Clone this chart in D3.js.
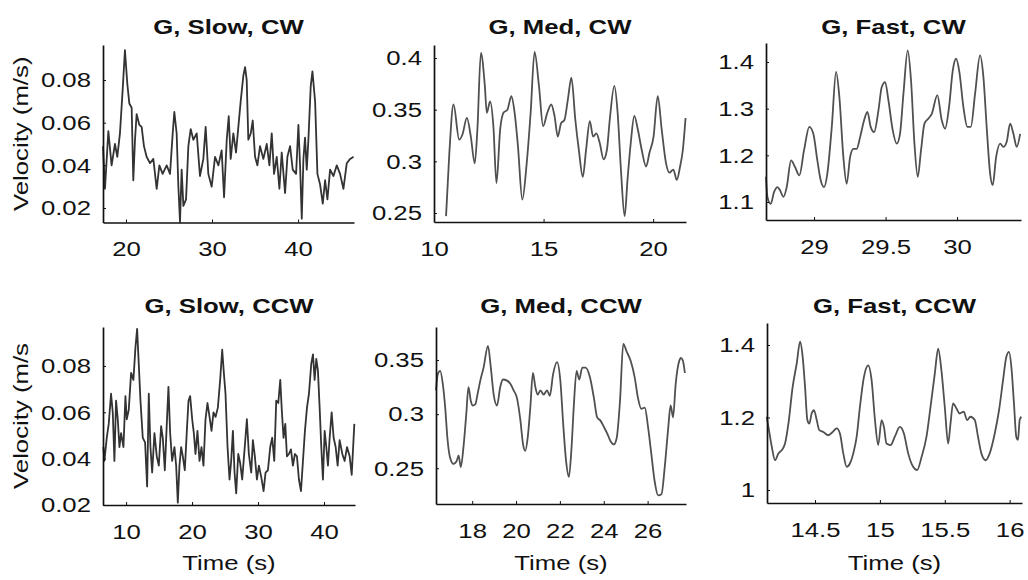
<!DOCTYPE html>
<html>
<head>
<meta charset="utf-8">
<script src="https://cdn.jsdelivr.net/npm/d3@7"></script>
<style>
  body { margin: 0; background: #fff; }
  svg { display: block; }
  .axis path, .axis line { stroke: #111; }
  .trace { fill: none; }
</style>
</head>
<body>
<div id="chart"></div>
<script>
// ---- data: [time (s), velocity (m/s)] ----
const slowCW = [
  [17.33,0.049],[17.56,0.029],[17.95,0.056],[18.33,0.040],[18.72,0.050],[18.99,0.044],[19.30,0.055],[19.61,0.075],
  [19.88,0.094],[20.16,0.078],[20.39,0.069],[20.66,0.067],[20.85,0.033],[21.05,0.052],[21.24,0.064],[21.55,0.059],
  [21.82,0.058],[22.09,0.049],[22.40,0.044],[22.79,0.041],[23.18,0.043],[23.57,0.029],[23.88,0.040],[24.26,0.036],
  [24.73,0.040],[25.12,0.036],[25.43,0.055],[25.62,0.065],[25.89,0.055],[26.09,0.030],[26.28,0.0135],[26.47,0.038],
  [26.67,0.021],[26.98,0.024],[27.25,0.049],[27.52,0.057],[27.83,0.052],[28.22,0.055],[28.60,0.035],[28.99,0.043],
  [29.26,0.058],[29.57,0.036],[29.96,0.030],[30.35,0.044],[30.74,0.040],[31.12,0.047],[31.40,0.025],[31.71,0.052],
  [31.94,0.063],[32.17,0.043],[32.48,0.055],[32.79,0.046],[33.06,0.058],[33.33,0.070],[33.64,0.082],[33.84,0.086],
  [34.03,0.080],[34.22,0.052],[34.50,0.055],[34.73,0.061],[35.00,0.044],[35.27,0.040],[35.58,0.049],[35.97,0.043],
  [36.36,0.050],[36.67,0.040],[36.94,0.055],[37.21,0.036],[37.52,0.044],[37.83,0.029],[38.10,0.046],[38.49,0.027],
  [38.76,0.044],[39.07,0.049],[39.38,0.038],[39.77,0.036],[40.04,0.059],[40.23,0.040],[40.43,0.015],[40.62,0.043],
  [40.81,0.053],[41.01,0.038],[41.20,0.052],[41.47,0.077],[41.67,0.084],[41.98,0.070],[42.25,0.036],[42.56,0.031],
  [42.87,0.022],[43.14,0.033],[43.41,0.024],[43.72,0.038],[44.11,0.035],[44.50,0.040],[44.88,0.036],[45.27,0.029],
  [45.66,0.041],[46.05,0.043],[46.45,0.044]
];
const medCW = [
  [10.55,0.247],[10.70,0.308],[10.89,0.355],[11.15,0.321],[11.30,0.326],[11.50,0.342],[11.68,0.324],[11.86,0.298],
  [11.98,0.331],[12.14,0.405],[12.32,0.373],[12.41,0.347],[12.56,0.358],[12.71,0.334],[12.85,0.279],[13.02,0.331],
  [13.17,0.347],[13.35,0.350],[13.53,0.363],[13.68,0.347],[13.83,0.315],[14.03,0.263],[14.23,0.298],[14.41,0.347],
  [14.59,0.406],[14.79,0.373],[14.98,0.334],[15.17,0.347],[15.35,0.355],[15.50,0.344],[15.65,0.324],[15.80,0.337],
  [15.95,0.340],[16.11,0.360],[16.27,0.381],[16.45,0.340],[16.61,0.311],[16.79,0.285],[16.94,0.311],[17.11,0.339],
  [17.26,0.324],[17.41,0.327],[17.56,0.318],[17.74,0.302],[17.89,0.311],[18.02,0.340],[18.23,0.373],[18.38,0.347],
  [18.53,0.292],[18.70,0.247],[18.83,0.282],[18.98,0.318],[19.14,0.344],[19.30,0.331],[19.48,0.311],[19.68,0.295],
  [19.83,0.308],[20.02,0.324],[20.21,0.363],[20.39,0.331],[20.59,0.298],[20.74,0.289],[20.92,0.292],[21.08,0.282],
  [21.23,0.295],[21.35,0.310],[21.48,0.342]
];
const fastCW = [
  [28.664,1.154],[28.674,1.111],[28.697,1.096],[28.720,1.121],[28.744,1.132],[28.762,1.125],[28.786,1.111],[28.809,1.132],
  [28.839,1.189],[28.867,1.175],[28.897,1.157],[28.930,1.211],[28.967,1.261],[28.995,1.246],[29.023,1.189],[29.047,1.146],
  [29.070,1.132],[29.093,1.161],[29.124,1.261],[29.154,1.379],[29.177,1.325],[29.205,1.196],[29.228,1.139],[29.252,1.196],
  [29.275,1.214],[29.298,1.214],[29.322,1.239],[29.350,1.275],[29.373,1.293],[29.396,1.261],[29.420,1.250],[29.450,1.296],
  [29.473,1.346],[29.497,1.357],[29.520,1.318],[29.550,1.254],[29.578,1.225],[29.601,1.246],[29.625,1.332],[29.655,1.425],
  [29.678,1.361],[29.702,1.225],[29.725,1.154],[29.748,1.211],[29.772,1.268],[29.800,1.279],[29.823,1.289],[29.862,1.329],
  [29.893,1.275],[29.916,1.257],[29.944,1.304],[29.970,1.382],[29.993,1.407],[30.016,1.379],[30.044,1.304],[30.072,1.261],
  [30.096,1.261],[30.126,1.332],[30.161,1.414],[30.184,1.368],[30.207,1.261],[30.231,1.161],[30.249,1.136],[30.273,1.196],
  [30.301,1.225],[30.324,1.218],[30.347,1.229],[30.371,1.268],[30.394,1.246],[30.417,1.218],[30.441,1.246]
];
const slowCCW = [
  [6.56,0.045],[6.71,0.039],[7.07,0.049],[7.37,0.055],[7.72,0.068],[7.98,0.060],[8.23,0.039],[8.48,0.065],
  [8.74,0.057],[8.99,0.045],[9.24,0.051],[9.60,0.045],[9.90,0.067],[10.10,0.057],[10.40,0.061],[10.76,0.077],
  [11.11,0.074],[11.42,0.088],[11.67,0.096],[11.92,0.081],[12.18,0.065],[12.53,0.049],[12.88,0.047],[13.19,0.028],
  [13.44,0.068],[13.69,0.045],[13.95,0.034],[14.30,0.051],[14.65,0.041],[14.96,0.037],[15.31,0.054],[15.56,0.049],
  [15.87,0.035],[16.17,0.055],[16.42,0.071],[16.68,0.051],[16.98,0.039],[17.33,0.045],[17.59,0.037],[17.84,0.021],
  [18.09,0.037],[18.35,0.045],[18.60,0.041],[18.90,0.035],[19.21,0.052],[19.46,0.065],[19.71,0.067],[20.02,0.057],
  [20.27,0.051],[20.52,0.042],[20.82,0.052],[21.13,0.039],[21.43,0.045],[21.73,0.037],[22.04,0.057],[22.34,0.064],
  [22.65,0.058],[22.95,0.052],[23.25,0.060],[23.56,0.058],[23.91,0.062],[24.26,0.074],[24.57,0.087],[24.82,0.077],
  [25.07,0.068],[25.38,0.045],[25.68,0.031],[25.93,0.039],[26.19,0.052],[26.44,0.034],[26.69,0.025],[27.00,0.042],
  [27.30,0.038],[27.60,0.031],[27.96,0.044],[28.31,0.057],[28.61,0.042],[28.97,0.034],[29.22,0.048],[29.52,0.041],
  [29.83,0.031],[30.13,0.037],[30.49,0.032],[30.84,0.026],[31.14,0.034],[31.50,0.035],[31.85,0.045],[32.15,0.049],
  [32.46,0.039],[32.76,0.065],[33.07,0.064],[33.37,0.074],[33.62,0.060],[33.87,0.049],[34.13,0.055],[34.38,0.041],
  [34.68,0.042],[34.99,0.044],[35.29,0.037],[35.59,0.042],[35.90,0.041],[36.20,0.031],[36.51,0.026],[36.81,0.039],
  [37.11,0.052],[37.42,0.062],[37.72,0.068],[38.07,0.081],[38.33,0.085],[38.58,0.074],[38.83,0.083],[39.08,0.078],
  [39.34,0.062],[39.59,0.045],[39.84,0.031],[40.10,0.052],[40.35,0.045],[40.60,0.037],[40.86,0.049],[41.16,0.060],
  [41.46,0.049],[41.77,0.045],[42.07,0.037],[42.37,0.048],[42.78,0.042],[43.13,0.039],[43.49,0.045],[43.89,0.041],
  [44.20,0.033],[44.60,0.055]
];
const medCCW = [
  [16.35,0.322],[16.43,0.337],[16.54,0.340],[16.66,0.328],[16.77,0.306],[16.87,0.278],[16.99,0.260],[17.15,0.254],
  [17.30,0.257],[17.38,0.262],[17.48,0.251],[17.60,0.269],[17.73,0.300],[17.83,0.325],[17.94,0.312],[18.03,0.308],
  [18.14,0.309],[18.24,0.318],[18.37,0.331],[18.52,0.343],[18.72,0.363],[18.85,0.343],[18.98,0.318],[19.13,0.308],
  [19.28,0.325],[19.40,0.332],[19.59,0.331],[19.74,0.328],[19.89,0.322],[20.04,0.315],[20.20,0.294],[20.32,0.272],
  [20.42,0.266],[20.53,0.278],[20.65,0.306],[20.77,0.338],[20.88,0.325],[20.99,0.318],[21.11,0.322],[21.26,0.318],
  [21.41,0.322],[21.54,0.317],[21.69,0.337],[21.87,0.348],[22.02,0.331],[22.15,0.291],[22.28,0.257],[22.41,0.242],
  [22.53,0.269],[22.63,0.306],[22.76,0.340],[22.88,0.332],[23.02,0.343],[23.17,0.343],[23.37,0.334],[23.55,0.315],
  [23.70,0.297],[23.85,0.294],[24.01,0.288],[24.16,0.282],[24.31,0.275],[24.46,0.272],[24.59,0.278],[24.74,0.312],
  [24.89,0.365],[25.04,0.358],[25.23,0.349],[25.41,0.334],[25.56,0.315],[25.71,0.305],[25.87,0.306],[26.02,0.288],
  [26.17,0.263],[26.32,0.238],[26.48,0.225],[26.63,0.226],[26.78,0.251],[26.93,0.285],[27.05,0.308],[27.16,0.297],
  [27.28,0.328],[27.44,0.349],[27.51,0.352],[27.60,0.350],[27.70,0.338]
];
const fastCCW = [
  [14.128,1.202],[14.141,1.174],[14.167,1.119],[14.192,1.082],[14.218,1.101],[14.244,1.110],[14.269,1.128],[14.295,1.183],
  [14.328,1.285],[14.359,1.349],[14.385,1.409],[14.405,1.367],[14.423,1.285],[14.441,1.193],[14.456,1.183],[14.474,1.211],
  [14.492,1.220],[14.513,1.193],[14.533,1.165],[14.564,1.160],[14.603,1.151],[14.636,1.160],[14.667,1.170],[14.692,1.156],
  [14.718,1.101],[14.744,1.064],[14.769,1.073],[14.795,1.101],[14.821,1.147],[14.846,1.229],[14.877,1.312],[14.910,1.344],
  [14.936,1.303],[14.962,1.193],[14.987,1.124],[15.013,1.193],[15.031,1.174],[15.051,1.128],[15.082,1.124],[15.115,1.147],
  [15.154,1.174],[15.185,1.156],[15.218,1.101],[15.256,1.064],[15.287,1.055],[15.321,1.091],[15.359,1.147],[15.390,1.229],
  [15.423,1.321],[15.449,1.390],[15.474,1.330],[15.500,1.229],[15.526,1.128],[15.544,1.183],[15.564,1.239],[15.590,1.225],
  [15.615,1.211],[15.646,1.216],[15.672,1.193],[15.697,1.202],[15.731,1.193],[15.756,1.147],[15.782,1.101],[15.815,1.082],
  [15.846,1.101],[15.885,1.156],[15.918,1.220],[15.949,1.303],[15.974,1.367],[15.995,1.381],[16.013,1.340],[16.033,1.239],
  [16.051,1.147],[16.064,1.138],[16.077,1.193],[16.090,1.202]
];

// tick values
const xTicksSlowCW = [20, 30, 40];
const xTicksMedCW = [10, 15, 20];
const xTicksFastCW = [29, 29.5, 30];
const xTicksSlowCCW = [10, 20, 30, 40];
const xTicksMedCCW = [18, 20, 22, 24, 26];
const xTicksFastCCW = [14.5, 15, 15.5, 16];
const yTicksSlow = [0.02, 0.04, 0.06, 0.08];
const yTicksMedCW = [0.25, 0.3, 0.35, 0.4];
const yTicksFastCW = [1.1, 1.2, 1.3, 1.4];
const yTicksMedCCW = [0.25, 0.3, 0.35];
const yTicksFastCCW = [1, 1.2, 1.4];

const titles = ["G, Slow, CW", "G, Med, CW", "G, Fast, CW", "G, Slow, CCW", "G, Med, CCW", "G, Fast, CCW"];
const yLabels = ["Velocity (m/s)", "Velocity (m/s"];
const xLabel = "Time (s)";

// ---- layout ----
const W = 1028, H = 580;
const FONT = "'Liberation Sans', Arial, Helvetica, sans-serif";
const FS = 19.5;       // font size
const STRETCH = 1.32;  // the figure's lettering is drawn wide

const panels = [
  { data: slowCW,  xDomain: [17.33, 46.5],  yDomain: [0.0132, 0.0964], xTicks: xTicksSlowCW,  yTicks: yTicksSlow,    left: 103, right: 354,  top: 45,  bottom: 222.5, titleY: 34,  slow: true },
  { data: medCW,   xDomain: [10, 21.5],     yDomain: [0.2413, 0.4126], xTicks: xTicksMedCW,   yTicks: yTicksMedCW,   left: 434, right: 686,  top: 45,  bottom: 222,   titleY: 34 },
  { data: fastCW,  xDomain: [28.664, 30.447], yDomain: [1.0614, 1.4407], xTicks: xTicksFastCW, yTicks: yTicksFastCW, left: 766, right: 1021, top: 43,  bottom: 220,   titleY: 34 },
  { data: slowCCW, xDomain: [6.5, 44.7],    yDomain: [0.02, 0.0968],   xTicks: xTicksSlowCCW, yTicks: yTicksSlow,    left: 103, right: 355,  top: 327, bottom: 505,   titleY: 313, slow: true },
  { data: medCCW,  xDomain: [16.35, 27.75], yDomain: [0.217, 0.3805],  xTicks: xTicksMedCCW,  yTicks: yTicksMedCCW,  left: 436, right: 686,  top: 327, bottom: 504,   titleY: 313 },
  { data: fastCCW, xDomain: [14.13, 16.095], yDomain: [0.9641, 1.4607], xTicks: xTicksFastCCW, yTicks: yTicksFastCCW, left: 767, right: 1022, top: 323, bottom: 503,   titleY: 313 }
];

const svg = d3.select("#chart").append("svg")
  .attr("width", W)
  .attr("height", H)
  .style("font-family", FONT);

// wide text helper
function label(x, y, txt, opts = {}) {
  const rot = opts.rotate ? ` rotate(${opts.rotate})` : "";
  return svg.append("text")
    .attr("transform", `translate(${x},${y})${rot} scale(${STRETCH},1)`)
    .attr("text-anchor", opts.anchor || "middle")
    .style("font-size", FS + "px")
    .style("font-weight", opts.bold ? "bold" : "normal")
    .attr("fill", "#111")
    .text(txt);
}

panels.forEach((p, i) => {
  const x = d3.scaleLinear().domain(p.xDomain).range([p.left, p.right]);
  const y = d3.scaleLinear().domain(p.yDomain).range([p.bottom, p.top]);

  // trace
  const line = d3.line()
    .x(d => x(d[0]))
    .y(d => y(d[1]))
    .curve(p.slow ? d3.curveLinear : d3.curveMonotoneX);

  svg.append("path")
    .datum(p.data)
    .attr("class", "trace")
    .attr("stroke", p.slow ? "#333" : "#505050")
    .attr("stroke-width", 1.8)
    .attr("stroke-linejoin", "round")
    .attr("d", line);

  // axes, ticks pointing inward (MATLAB style)
  const xAxis = d3.axisBottom(x)
    .tickValues(p.xTicks)
    .tickSize(-3)
    .tickSizeOuter(0)
    .tickPadding(20)
    .tickFormat(d => String(d));

  const yAxis = d3.axisLeft(y)
    .tickValues(p.yTicks)
    .tickSize(-3)
    .tickSizeOuter(0)
    .tickPadding(12 / STRETCH)
    .tickFormat(d => String(d));

  const gx = svg.append("g")
    .attr("class", "axis")
    .attr("transform", `translate(0,${p.bottom})`)
    .call(xAxis);

  const gy = svg.append("g")
    .attr("class", "axis")
    .attr("transform", `translate(${p.left},0)`)
    .call(yAxis);

  [gx, gy].forEach(g => {
    g.select(".domain").attr("stroke-width", 1.7);
    g.selectAll(".tick line").attr("stroke-width", 1);
    g.selectAll(".tick text")
      .attr("transform", `scale(${STRETCH},1)`)
      .style("font-size", FS + "px")
      .style("font-family", FONT)
      .attr("fill", "#111");
  });
  gy.selectAll(".tick text").attr("dy", "0.35em");

  // title
  label((p.left + p.right) / 2, p.titleY, titles[i], { bold: true });

  // y label on the first column
  if (i % 3 === 0) {
    label(28, (p.top + p.bottom) / 2, yLabels[i / 3], { rotate: -90 });
  }
  // x label on the bottom row
  if (i >= 3) {
    label((p.left + p.right) / 2, 570, xLabel);
  }
});
</script>
</body>
</html>
